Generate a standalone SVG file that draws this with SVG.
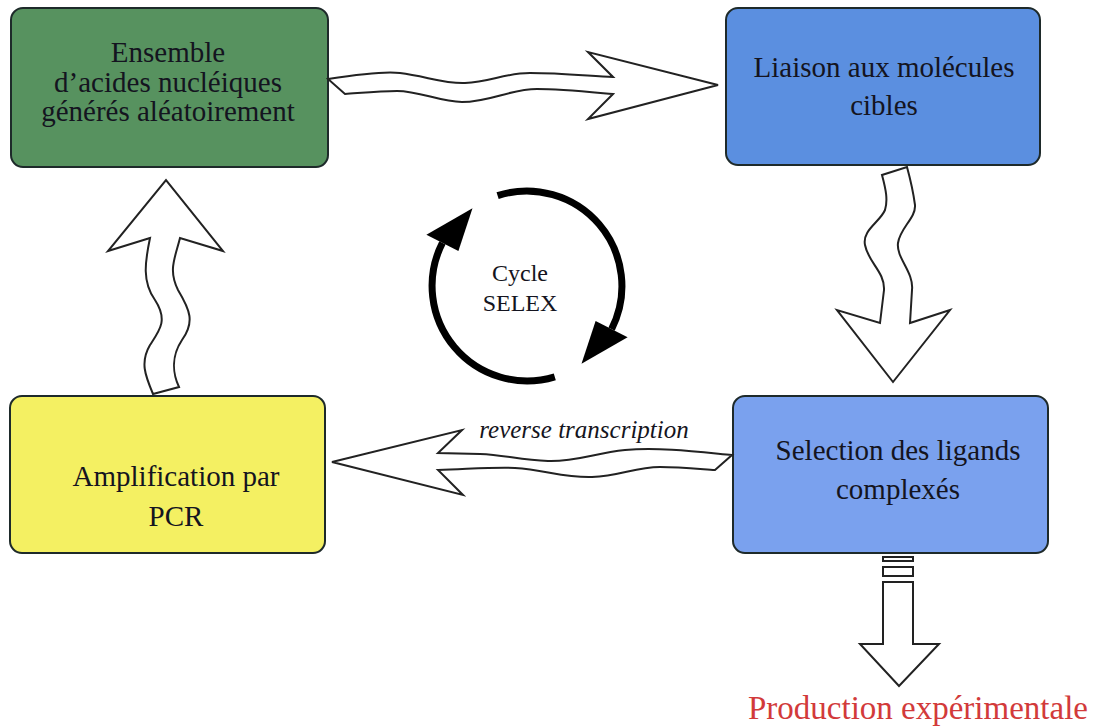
<svg xmlns="http://www.w3.org/2000/svg" width="1095" height="728" viewBox="0 0 1095 728">
  <style>
    .box { stroke: #1e2a2a; stroke-width: 2; }
    .lbl { font-family: "Liberation Serif", "Times New Roman", serif; font-size: 29px; fill: #141420; text-anchor: middle; }
    .wave { fill: #ffffff; stroke: #222222; stroke-width: 2; stroke-linejoin: miter; }
    .cyc { fill: none; stroke: #000000; stroke-width: 7; }
    .head { fill: #000000; }
  </style>

  <rect width="1095" height="728" fill="#ffffff"/>

  <!-- process steps -->
  <g id="node-ensemble">
    <rect class="box" x="11" y="8" width="317" height="159" rx="12" fill="#57925f"/>
    <text class="lbl" x="168" y="62">Ensemble</text>
    <text class="lbl" x="168" y="92">d’acides nucléiques</text>
    <text class="lbl" x="168" y="121">générés aléatoirement</text>
  </g>

  <g id="node-liaison">
    <rect class="box" x="726" y="8" width="314" height="157" rx="12" fill="#5b8fe0"/>
    <text class="lbl" x="884" y="77">Liaison aux molécules</text>
    <text class="lbl" x="884" y="115">cibles</text>
  </g>

  <g id="node-selection">
    <rect class="box" x="733" y="396" width="315" height="157" rx="12" fill="#7aa1ee"/>
    <text class="lbl" x="898" y="460">Selection des ligands</text>
    <text class="lbl" x="898" y="499">complexés</text>
  </g>

  <g id="node-pcr">
    <rect class="box" x="10" y="396" width="315" height="157" rx="12" fill="#f4f062"/>
    <text class="lbl" x="176" y="486">Amplification par</text>
    <text class="lbl" x="176" y="526">PCR</text>
  </g>

  <!-- central SELEX cycle -->
  <g id="node-cycle">
    <path class="cyc" d="M497.6,195.7 A95,95 0 0 1 611.6,329.1"/>
    <polygon class="head" points="627.6,337.3 595.6,320.9 581.5,363.8"/>
    <path class="cyc" d="M554.8,376.8 A95,95 0 0 1 442.4,242.9"/>
    <polygon class="head" points="426.4,234.7 458.4,251.1 472.5,208.2"/>
    <text class="lbl" x="520" y="281" style="font-size:24px">Cycle</text>
    <text class="lbl" x="520" y="311" style="font-size:24px">SELEX</text>
  </g>

  <!-- connectors -->
  <g id="connectors">
    <!-- ensemble -> liaison -->
    <path class="wave" d="M328,79 C360,74 385,71 400,73 C425,76 445,84 465,83 C490,82 505,73 530,73 C560,73 590,76 613,77 L588,52 L718,85 L588,119 L613,94 C590,92 560,89 537,89 C510,89 490,102 462,102 C440,102 420,91 397,91 C380,91 360,93 345,94 Z"/>
    <!-- liaison -> selection -->
    <path class="wave" d="M882,175 C886,190 888,200 885,210 C880,222 862,230 865,245 C868,262 885,272 884,290 L880,323 L837,310 L893,382 L950,310 L910,323 L912,290 C914,272 896,258 898,243 C900,228 916,218 915,205 C913,190 910,178 907,167 Z"/>
    <!-- selection -> pcr (reverse transcription) -->
    <path class="wave" d="M732,455 C700,452 660,447 625,450 C595,453 575,462 548,461 C520,460 505,455 480,454 L438,453 L462,430 L332,462 L463,495 L438,470 C470,469 495,467 515,468 C545,470 565,478 592,477 C620,476 635,467 660,467 C680,467 700,469 715,470 Z"/>
    <text x="584" y="438" style="font-family:'Liberation Serif','Times New Roman',serif;font-style:italic;font-size:25px;fill:#141420;text-anchor:middle">reverse transcription</text>
    <!-- pcr -> ensemble -->
    <path class="wave" d="M153,394 C145,375 140,362 150,345 C160,330 168,320 155,300 C142,282 145,262 150,238 L108,251 L166,180 L223,251 L180,238 C175,258 168,270 178,290 C190,310 195,322 182,340 C172,355 172,372 179,387 Z"/>
    <!-- selection -> output -->
    <rect class="wave" x="883" y="557" width="30" height="4"/>
    <rect class="wave" x="883" y="567" width="30" height="9"/>
    <path class="wave" d="M883,582 L913,582 L913,644 L939,644 L899,686 L860,644 L883,644 Z"/>
  </g>

  <text x="918" y="719" style="font-family:'Liberation Serif','Times New Roman',serif;font-size:33px;fill:#d23a3a;text-anchor:middle">Production expérimentale</text>
</svg>
